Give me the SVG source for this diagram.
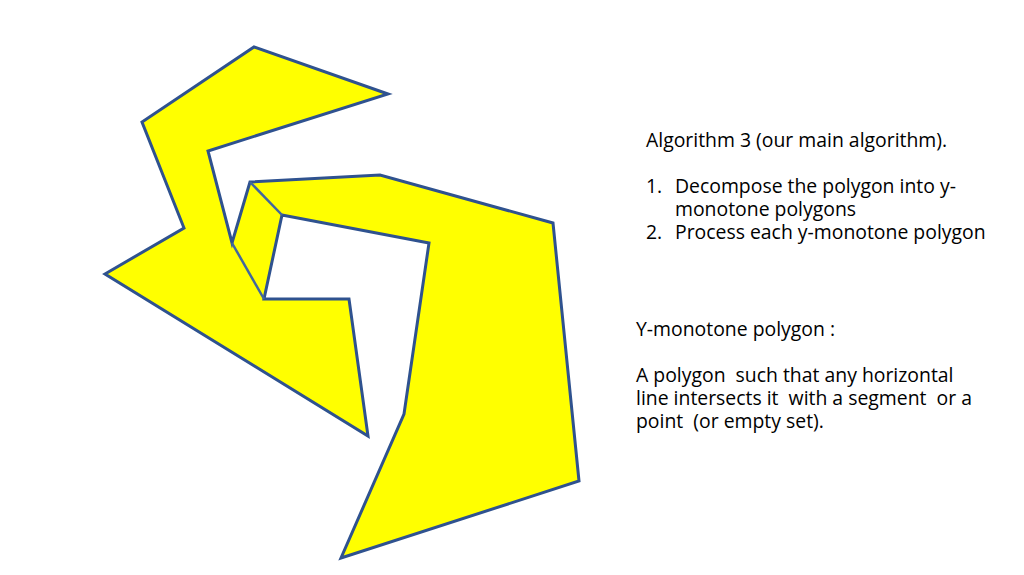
<svg xmlns="http://www.w3.org/2000/svg" width="1024" height="575" viewBox="0 0 1024 575">
<style>
.poly{fill:#FFFF00;stroke:#2F528F;stroke-width:3;stroke-linejoin:miter}
.diag{fill:none;stroke:#41679F;stroke-width:2.5}
text{font-family:"Open Sans","Noto Sans",sans-serif;font-size:19.4px;fill:#000;white-space:pre}
</style>
<rect width="1024" height="575" fill="#fff"/>
<g id="polygon">
<polygon class="poly" points="254,47 388,94 208,151 232,243 250,182 380,175 553,223 579,481 341,558 404,414 429,243 282,215 264,299 349,299 368,436 105,274 184,228 142,122"/>
</g>
<g id="connectors">
<line class="diag" x1="250" y1="182" x2="282" y2="215"/>
<line class="diag" x1="232" y1="243" x2="264" y2="299"/>
</g>
<g id="text-algorithm">
<text x="646" y="147">Algorithm 3 (our main algorithm).</text>
<text x="646" y="193">1.</text>
<text x="675" y="193">Decompose the polygon into y-</text>
<text x="675" y="216">monotone polygons</text>
<text x="646" y="239">2.</text>
<text x="675" y="239">Process each y-monotone polygon</text>
</g>
<g id="text-definition">
<text x="636" y="336">Y-monotone polygon :</text>
<text x="636" y="382" xml:space="preserve">A polygon  such that any horizontal</text>
<text x="636" y="405" xml:space="preserve">line intersects it  with a segment  or a</text>
<text x="636" y="428" xml:space="preserve">point  (or empty set).</text>
</g>
</svg>
